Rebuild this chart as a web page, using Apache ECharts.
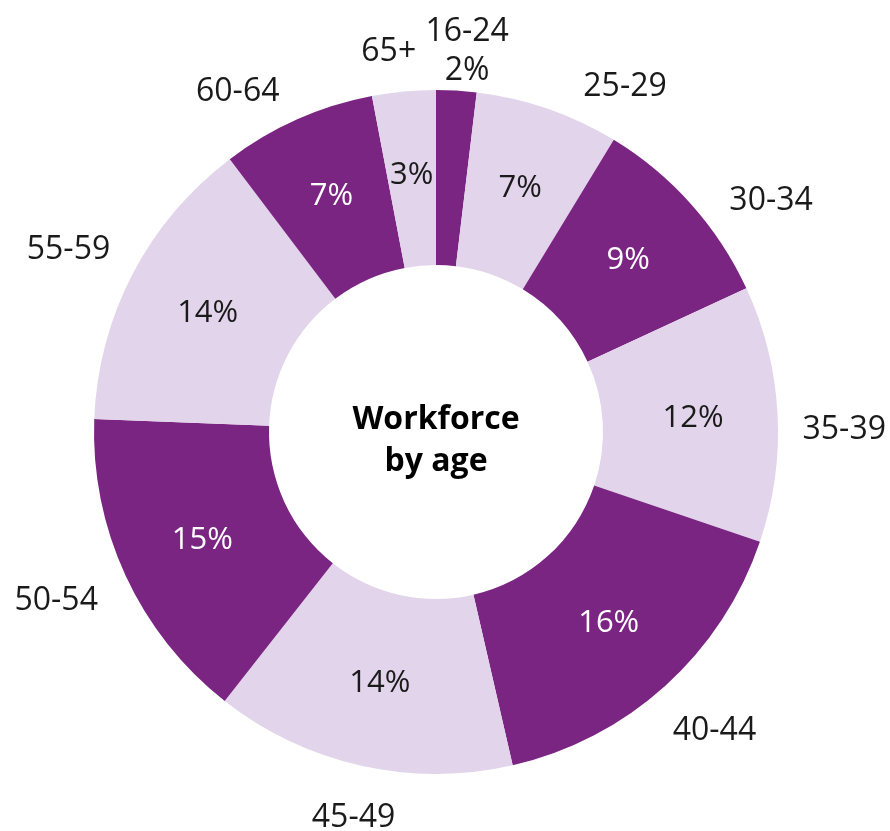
<!DOCTYPE html>
<html>
<head>
<meta charset="utf-8">
<script src="https://cdn.jsdelivr.net/npm/echarts@6/dist/echarts.min.js"></script>
<style>
  html, body { margin: 0; padding: 0; background: #fff; }
  #chart { width: 890px; height: 831px; }
</style>
</head>
<body>
<div id="chart"></div>
<script>
// age bands, clockwise from 12 o'clock
var ages = ['16-24', '25-29', '30-34', '35-39', '40-44', '45-49', '50-54', '55-59', '60-64', '65+'];
// share of workforce (%)
var shares = [1.9, 6.8, 9.4, 12.1, 16.2, 14.2, 15.0, 14.1, 7.3, 3.0];

var DARK = '#7b2583';
var LIGHT = '#e2d4ea';
var FONT = 'Open Sans';
var CX = 436, CY = 432;
var LABEL_GAP = 375;  // distance from centre to the near edge of an age label
// small angular nudges (deg) and radial pulls (px) so the age labels sit where the original put them
var labelNudge = [1.2, 9.3, 6.6, 2.1, -1.3, -0.4, 1.5, -0.5, -5.9, -1.6];
var labelPull = [-20, 0, 0, 0, 0, 0, 0, 0, 0, 0];

var total = shares.reduce(function (a, b) { return a + b; }, 0);
var midAngle = [];
var acc = 0;
shares.forEach(function (v) {
  midAngle.push((acc + v / 2) / total * 360);
  acc += v;
});

var chart = echarts.init(document.getElementById('chart'));

var sliceData = ages.map(function (a, i) {
  var dark = i % 2 === 0;
  var small = shares[i] < 2.5;
  return {
    name: a,
    value: shares[i],
    itemStyle: { color: dark ? DARK : LIGHT },
    label: { show: !small, color: dark ? '#ffffff' : '#1a1a1a' }
  };
});

chart.setOption({
  animation: false,
  series: [
    {
      type: 'pie',
      center: [CX, CY],
      radius: [167, 342],
      startAngle: 90,
      clockwise: true,
      silent: true,
      data: sliceData,
      label: {
        position: 'inside',
        fontFamily: FONT,
        fontSize: 31,
        formatter: function (p) { return Math.round(p.value) + '%'; }
      },
      labelLine: { show: false },
      emphasis: { disabled: true }
    },
    {
      // transparent copy that only carries the age labels around the ring
      type: 'pie',
      center: [CX, CY],
      radius: [167, 342],
      startAngle: 90,
      clockwise: true,
      silent: true,
      avoidLabelOverlap: false,
      data: ages.map(function (a, i) { return { name: a, value: shares[i] }; }),
      itemStyle: { color: 'rgba(0,0,0,0)' },
      label: {
        position: 'outside',
        fontFamily: FONT,
        fontSize: 32,
        lineHeight: 39,
        color: '#1a1a1a',
        formatter: function (p) {
          if (p.value < 2.5) return p.name + '\n' + Math.round(p.value) + '%';
          return p.name;
        }
      },
      labelLine: { show: false },
      labelLayout: function (params) {
        if (params.seriesIndex !== 1) return {};
        var i = params.dataIndex;
        var th = (midAngle[i] + labelNudge[i]) * Math.PI / 180;
        var sx = Math.sin(th), sy = -Math.cos(th);
        var w = params.labelRect.width / 2;
        var h = params.labelRect.height / 2 - 7;
        var r = LABEL_GAP + labelPull[i] + Math.sqrt(w * w * sx * sx + h * h * sy * sy);
        var x = CX + sx * r;
        // keep labels inside the chart area
        x = Math.min(x, 890 - w - 4);
        x = Math.max(x, w + 4);
        return {
          x: x,
          y: CY + sy * r + 5,
          align: 'center',
          verticalAlign: 'middle'
        };
      },
      emphasis: { disabled: true }
    }
  ],
  graphic: [
    {
      type: 'text',
      x: 436,
      y: 441,
      style: {
        text: 'Workforce\nby age',
        font: 'bold 32px "Open Sans"',
        lineHeight: 42,
        fill: '#000',
        textAlign: 'center',
        textVerticalAlign: 'middle'
      }
    }
  ]
});
</script>
</body>
</html>
